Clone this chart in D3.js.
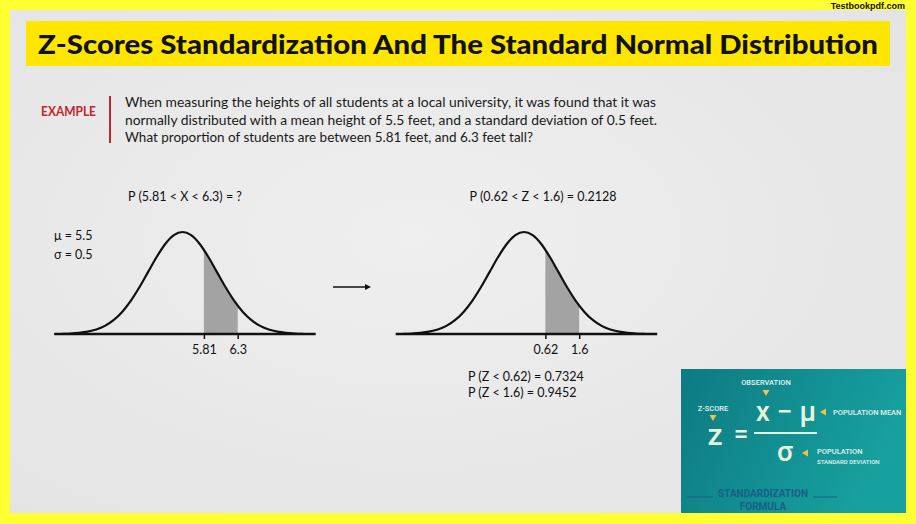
<!DOCTYPE html>
<html><head><meta charset="utf-8">
<script src="https://cdn.jsdelivr.net/npm/d3@7"></script>
<style>
html,body{margin:0;padding:0;background:#ffff33;}
svg{display:block;}
</style></head>
<body>
<svg id="chart" width="916" height="524"></svg>
<script>
// ---------- data ----------
const titleText = "Z-Scores Standardization And The Standard Normal Distribution";
const exampleLines = [
  "When measuring the heights of all students at a local university, it was found that it was",
  "normally distributed with a mean height of 5.5 feet, and a standard deviation of 0.5 feet.",
  "What proportion of students are between 5.81 feet, and 6.3 feet tall?"
];
const mu = 5.5, sigma = 0.5;
const xBounds = [5.81, 6.3];
const zBounds = [0.62, 1.6];
const xTickLabels = ["5.81", "6.3"];
const zTickLabels = ["0.62", "1.6"];
const probLabels = ["P (Z < 0.62) = 0.7324", "P (Z < 1.6) = 0.9452"];
const leftTitle = "P (5.81 < X < 6.3) = ?";
const rightTitle = "P (0.62 < Z < 1.6) = 0.2128";
const paramLabels = ["\u03bc = 5.5", "\u03c3 = 0.5"];
// standard normal density read at z steps (table values)
const curveZ = [-3.5,-3.25,-3,-2.75,-2.5,-2.25,-2,-1.75,-1.5,-1.25,-1,-0.75,-0.5,-0.25,0,0.25,0.5,0.75,1,1.25,1.5,1.75,2,2.25,2.5,2.75,3,3.25,3.5];
const curveDensity = [0.0009,0.0020,0.0044,0.0091,0.0175,0.0317,0.0540,0.0863,0.1295,0.1826,0.2420,0.3011,0.3521,0.3867,0.3989,0.3867,0.3521,0.3011,0.2420,0.1826,0.1295,0.0863,0.0540,0.0317,0.0175,0.0091,0.0044,0.0020,0.0009];

// ---------- drawing ----------
const svg = d3.select("#chart");
const defs = svg.append("defs");
const bg = defs.append("radialGradient").attr("id","bg").attr("cx","45%").attr("cy","45%").attr("r","70%");
bg.append("stop").attr("offset","0%").attr("stop-color","#efefef");
bg.append("stop").attr("offset","100%").attr("stop-color","#e4e4e4");
const tg = defs.append("linearGradient").attr("id","teal").attr("x1","0").attr("x2","1").attr("y1","0").attr("y2","0.3");
tg.append("stop").attr("offset","0%").attr("stop-color","#0d7a82");
tg.append("stop").attr("offset","100%").attr("stop-color","#17a19e");

svg.append("rect").attr("width",916).attr("height",524).attr("fill","#ffff33");
svg.append("rect").attr("x",10).attr("y",10).attr("width",896).attr("height",503).attr("fill","url(#bg)");

svg.append("text").attr("x",905).attr("y",9).attr("text-anchor","end")
  .attr("font-family","Liberation Sans, Arial, sans-serif").attr("font-weight","bold").attr("font-size",9)
  .attr("fill","#111").text("Testbookpdf.com");

// Title banner
svg.append("rect").attr("x",26).attr("y",21).attr("width",864).attr("height",45).attr("fill","#ffe600");
svg.append("text").attr("x",458).attr("y",54).attr("text-anchor","middle")
  .attr("font-family","Lato, sans-serif").attr("font-weight",900).attr("font-size",27)
  .attr("textLength",840).attr("lengthAdjust","spacingAndGlyphs")
  .attr("fill","#111").text(titleText);

// Example block
svg.append("text").attr("x",41).attr("y",116).attr("font-family","Lato, sans-serif")
  .attr("font-weight","bold").attr("font-size",12.5).attr("fill","#c0282e")
  .attr("textLength",55).attr("lengthAdjust","spacingAndGlyphs").text("EXAMPLE");
svg.append("line").attr("x1",110).attr("x2",110).attr("y1",96).attr("y2",143)
  .attr("stroke","#c0282e").attr("stroke-width",2);
const lineWidths = [531, 532, 408];
svg.selectAll("text.ex").data(exampleLines).join("text").attr("class","ex")
  .attr("x",125).attr("y",(d,i)=>107+i*17.5)
  .attr("font-family","Lato, sans-serif").attr("font-size",12.5).attr("fill","#1a1a1a")
  .attr("textLength",(d,i)=>lineWidths[i]).attr("lengthAdjust","spacingAndGlyphs")
  .text(d=>d);

// Panels
const baseY = 334;
const y = d3.scaleLinear().domain([0, 0.3989]).range([baseY, baseY-102]);
function panel(cx, meanV, sdV, bounds, tickLabels, idx){
  const x = d3.scaleLinear().domain([meanV, meanV+sdV]).range([cx, cx+34.5]);
  const pts = curveZ.map((z,i)=>[meanV+z*sdV, curveDensity[i]]);
  const g = svg.append("g");
  const clipId = "clip"+idx;
  defs.append("clipPath").attr("id",clipId).append("rect")
    .attr("x",x(bounds[0])).attr("y",0).attr("width",x(bounds[1])-x(bounds[0])).attr("height",baseY);
  const area = d3.area().x(d=>x(d[0])).y0(baseY).y1(d=>y(d[1])).curve(d3.curveMonotoneX);
  g.append("path").datum(pts).attr("d",area).attr("fill","#a3a3a3").attr("clip-path",`url(#${clipId})`);
  const line = d3.line().x(d=>x(d[0])).y(d=>y(d[1])).curve(d3.curveMonotoneX);
  g.append("path").datum(pts).attr("d",line).attr("fill","none").attr("stroke","#111").attr("stroke-width",2.2);
  // axis
  const axisDom = [meanV - 3.72*sdV, meanV + 3.86*sdV];
  g.append("line").attr("x1",x(axisDom[0])).attr("x2",x(axisDom[1])).attr("y1",baseY).attr("y2",baseY)
    .attr("stroke","#111").attr("stroke-width",2.6);
  const ax = d3.axisBottom(x).tickValues(bounds).tickFormat((d,i)=>tickLabels[i]).tickSize(5).tickSizeOuter(0);
  const axG = g.append("g").attr("transform",`translate(0,${baseY})`).call(ax);
  axG.select(".domain").remove();
  axG.selectAll(".tick line").attr("stroke","#111").attr("stroke-width",1.5);
  axG.selectAll(".tick text").attr("font-family","Lato, sans-serif").attr("font-size",12.5)
    .attr("fill","#111").attr("dy","0.95em");
  return x;
}
panel(182.5, mu, sigma, xBounds, xTickLabels, 0);
panel(524, 0, 1, zBounds, zTickLabels, 1);

const lbl = (t,xx,yy,anchor)=>svg.append("text").attr("x",xx).attr("y",yy).attr("text-anchor",anchor||"start")
  .attr("font-family","Lato, sans-serif").attr("font-size",12.5).attr("fill","#111").text(t);
lbl(leftTitle,185,201,"middle");
lbl(rightTitle,543,201,"middle");
lbl(paramLabels[0],54,240);
lbl(paramLabels[1],54,259);
lbl(probLabels[0],468,381);
lbl(probLabels[1],468,397);

// arrow
svg.append("line").attr("x1",333).attr("x2",366).attr("y1",287).attr("y2",287).attr("stroke","#111").attr("stroke-width",1.6);
svg.append("path").attr("d","M365,284 L371,287 L365,290 Z").attr("fill","#111");

// Teal formula box
const tb = svg.append("g");
tb.append("rect").attr("x",681).attr("y",369).attr("width",225).attr("height",144).attr("fill","url(#teal)");
const light = "#e6f3dc", tri = "#f2c14e";
const small = (t,xx,yy,fs,anchor,col,w)=>tb.append("text").attr("x",xx).attr("y",yy).attr("text-anchor",anchor||"start")
  .attr("font-family","Roboto, sans-serif").attr("font-weight",w||500).attr("font-size",fs).attr("fill",col||"#e6f3f0").text(t);
small("OBSERVATION",766,385,7.5,"middle");
small("Z-SCORE",713,411,7.5,"middle");
small("POPULATION MEAN",833,415,7.5);
small("POPULATION",817,454,7.5);
small("STANDARD DEVIATION",817,463.5,6);
const triDown = (cx,cy)=>tb.append("path").attr("d",`M${cx-3.5},${cy-3} L${cx+3.5},${cy-3} L${cx},${cy+3} Z`).attr("fill",tri);
const triLeft = (cx,cy)=>tb.append("path").attr("d",`M${cx+3},${cy-3.5} L${cx+3},${cy+3.5} L${cx-3},${cy} Z`).attr("fill",tri);
triDown(766,393); triDown(713,418);
triLeft(823,412); triLeft(805,453);
tb.append("text").attr("x",786).attr("y",421).attr("text-anchor","middle").attr("font-family","Roboto, sans-serif")
  .attr("font-weight","500").attr("font-size",28).attr("fill",light).text("x \u2212 \u03bc");
tb.append("text").attr("x",715).attr("y",445).attr("text-anchor","middle").attr("font-family","Roboto, sans-serif")
  .attr("font-weight","500").attr("font-size",30).attr("fill",light).text("z");
tb.append("text").attr("x",741).attr("y",443).attr("text-anchor","middle").attr("font-family","Roboto, sans-serif")
  .attr("font-weight","500").attr("font-size",26).attr("fill",light).text("=");
tb.append("line").attr("x1",754).attr("x2",817).attr("y1",433).attr("y2",433).attr("stroke",light).attr("stroke-width",2);
tb.append("text").attr("x",785).attr("y",461).attr("text-anchor","middle").attr("font-family","Roboto, sans-serif")
  .attr("font-weight","500").attr("font-size",28).attr("fill",light).text("\u03c3");
small("STANDARDIZATION",763,497,10,"middle","#1b5e88",700);
small("FORMULA",763,509.5,10,"middle","#1b5e88",700);
tb.append("line").attr("x1",687).attr("x2",713).attr("y1",497).attr("y2",497).attr("stroke","#1b5e88").attr("stroke-width",1);
tb.append("line").attr("x1",813).attr("x2",837).attr("y1",497).attr("y2",497).attr("stroke","#1b5e88").attr("stroke-width",1);
</script>
</body></html>
